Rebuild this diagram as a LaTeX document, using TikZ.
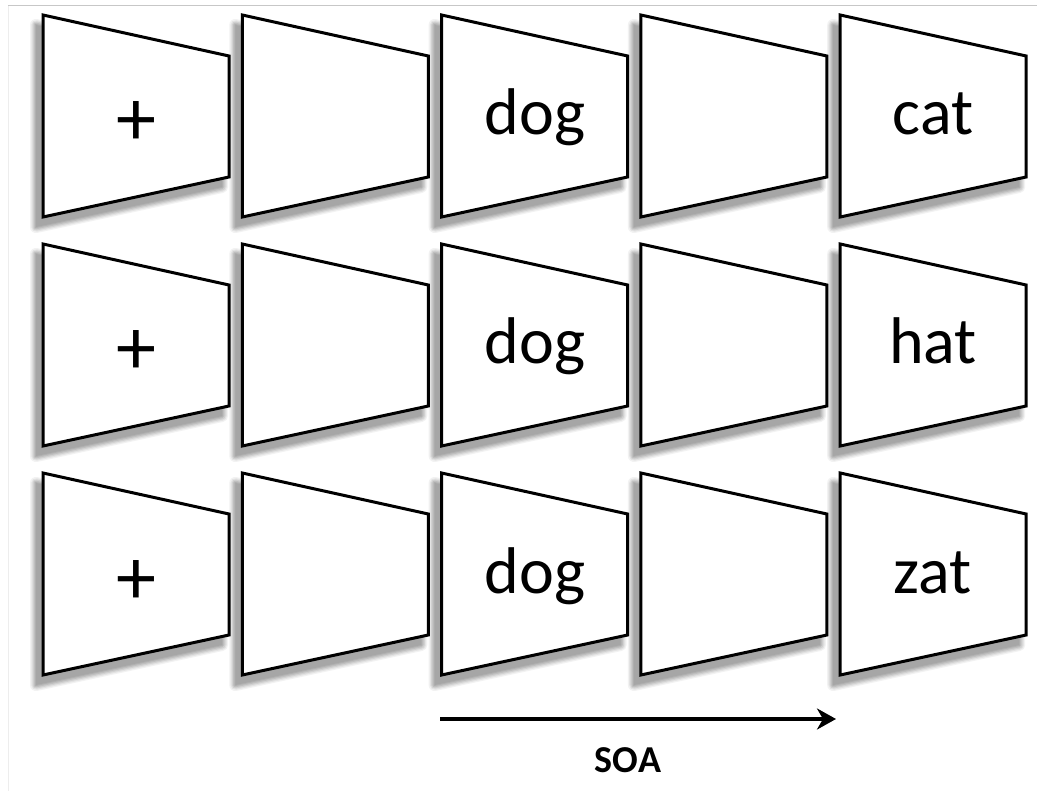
\documentclass[tikz,border=0pt]{standalone}
\usepackage{fontspec}
\setmainfont{Carlito}
\usetikzlibrary{arrows.meta}
\tikzset{
  card/.style={draw=black, line width=3pt, fill=white, line join=miter},
  shadowring/.style={line join=round},
  shadowcore/.style={fill=black!35},
  word/.style={anchor=base, inner sep=0pt, font=\fontsize{66}{70}\selectfont},
  plussign/.style={anchor=base, inner sep=0pt, font=\fontsize{80}{84}\selectfont},
  frameline/.style={draw=black!22, line width=1pt},
  soaarrow/.style={line width=3.4pt, -{Stealth[length=19pt, width=21pt, inset=6pt]}}
}
\begin{document}
\begin{tikzpicture}[x=1pt, y=-1pt]
\useasboundingbox (0,0) rectangle (1037,791);
\fill[white] (0,0) rectangle (1037,791);
\coordinate (tl) at (8,6);
\coordinate (tr) at (1037,6);
\coordinate (bl) at (8,791);
\draw[frameline] (tl) -- (tr);
\draw[draw=black!7, line width=1pt] (tl) -- (bl);
% shadows
\foreach \top in {15, 244, 473} {
  \foreach \c in {0,...,4} {
    \pgfmathsetmacro{\lx}{43+199.3*\c}
    \foreach \lw/\sh in {12/5, 9.5/11, 7/18, 4.5/25, 2/31} {
      \path[shadowring, draw=black!\sh, line width=\lw pt, shift={(-7,10)}] (\lx,\top) -- ++(186,41) -- ++(0,121) -- ++(-186,40) -- cycle;
    }
    \path[shadowcore, shift={(-7,10)}] (\lx,\top) -- ++(186,41) -- ++(0,121) -- ++(-186,40) -- cycle;
  }
}
% cards
\foreach \top in {15, 244, 473} {
  \foreach \c in {0,...,4} {
    \pgfmathsetmacro{\lx}{43+199.3*\c}
    \path[card] (\lx,\top) -- ++(186,41) -- ++(0,121) -- ++(-186,40) -- cycle;
  }
}
\foreach \r/\top/\w in {0/15/cat, 1/244/hat, 2/473/zat} {
  \node[plussign] (plus\r) at (136,\top+131) {+};
  \node[word] (dog\r) at (535,\top+120) {dog};
  \node[word] (last\r) at (933,\top+120) {\w};
}
\coordinate (soastart) at (440,719);
\coordinate (soaend) at (836,719);
\draw[soaarrow] (soastart) -- (soaend);
\node[anchor=base, inner sep=0pt, font=\bfseries\fontsize{38}{40}\selectfont] (soa) at (628,772) {SOA};
\end{tikzpicture}
\end{document}
